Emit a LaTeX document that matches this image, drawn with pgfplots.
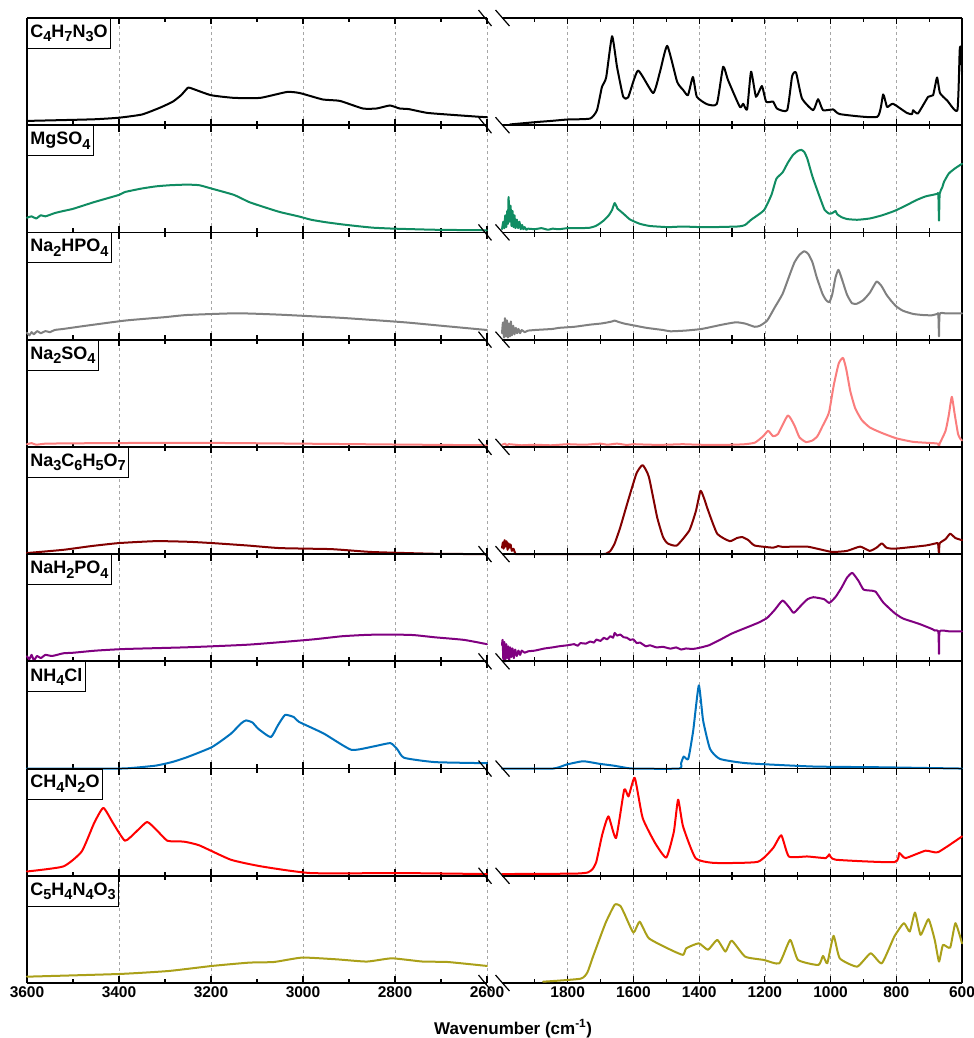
\documentclass[border=0pt]{standalone}
\usepackage{fontspec}
\setmainfont{Liberation Sans}
\usepackage{pgfplots}
\pgfplotsset{compat=1.18}
\definecolor{cgreen}{RGB}{16,140,98}
\definecolor{cgray}{RGB}{128,128,128}
\definecolor{csalmon}{RGB}{250,125,125}
\definecolor{cdred}{RGB}{130,0,0}
\definecolor{cpurple}{RGB}{128,0,128}
\definecolor{cblue}{RGB}{0,114,189}
\definecolor{cred}{RGB}{255,0,0}
\definecolor{colive}{RGB}{170,160,25}
\newcommand\sub[1]{\raisebox{-4.5bp}{\fontsize{14.5bp}{14.5bp}\selectfont #1}}
\newcommand\lab[1]{\node[draw=black, line width=0.8bp, fill=white, anchor=north west, inner xsep=3bp, inner ysep=0bp, minimum height=30bp, font=\fontsize{18bp}{20bp}\selectfont\bfseries] at (rel axis cs:0,1) {#1};}
\pgfplotsset{
  panel/.style={scale only axis, width=460bp, height=107.222bp, ymin=0, ymax=1, ytick=\empty,
    x dir=reverse, xticklabels=\empty, xmajorgrids=true, clip=false,
    major grid style={color=black!35, line width=0.7bp, dash pattern=on 3bp off 3bp},
    every tick/.style={black, line width=1.1bp},
    major tick length=6.5bp, minor tick length=4.2bp,
    anchor=south west,
    xticklabel style={font=\fontsize{15.5bp}{18bp}\selectfont\bfseries},
    every axis plot/.append style={line width=2bp, line join=round, line cap=round, no markers, smooth, tension=0.3}},
  lp/.style={panel, xmin=2600, xmax=3600, xtick={2600,2800,3000,3200,3400,3600}, minor xtick={2700,2900,3100,3300,3500}, axis y line*=left, axis line style={-, line width=1.8bp, black}},
  rp/.style={panel, xmin=600, xmax=2000, xtick={600,800,1000,1200,1400,1600,1800}, minor xtick={700,900,1100,1300,1500,1700,1900}, axis y line*=right, axis line style={-, line width=1.8bp, black}},
}
\begin{document}
\begin{tikzpicture}
% ---------- Panel 1: C4H7N3O ----------
\begin{axis}[lp, at={(27bp,912.778bp)}]
\addplot[black] coordinates {(3600,0.04)(3500,0.05)(3450,0.056)(3400,0.07)(3350,0.10)(3310,0.165)(3283,0.22)(3265,0.28)(3250,0.35)(3240,0.34)(3200,0.28)(3150,0.255)(3093,0.255)(3035,0.31)(3007,0.30)(2957,0.24)(2920,0.227)(2870,0.156)(2840,0.156)(2811,0.184)(2790,0.156)(2770,0.15)(2730,0.115)(2674,0.096)(2615,0.078)(2600,0.075)};
\lab{C\sub{4}H\sub{7}N\sub{3}O}
\end{axis}
\begin{axis}[rp, at={(502bp,912.778bp)}]
\addplot[black] coordinates {(1976,0.007)(1893,0.03)(1850,0.04)(1802,0.053)(1732,0.062)(1711,0.14)(1696,0.355)(1683,0.445)(1665,0.83)(1650,0.545)(1631,0.265)(1616,0.26)(1586,0.51)(1540,0.30)(1519,0.50)(1497,0.74)(1467,0.405)(1449,0.33)(1434,0.28)(1419,0.45)(1407,0.265)(1376,0.196)(1346,0.2)(1327,0.545)(1312,0.42)(1276,0.17)(1266,0.2)(1254,0.147)(1242,0.50)(1227,0.265)(1209,0.365)(1196,0.218)(1175,0.22)(1163,0.155)(1132,0.14)(1117,0.458)(1105,0.49)(1087,0.25)(1053,0.14)(1038,0.243)(1023,0.14)(992,0.147)(971,0.103)(858,0.078)(840,0.287)(828,0.17)(810,0.2)(768,0.115)(752,0.103)(749,0.14)(734,0.11)(703,0.265)(688,0.28)(676,0.445)(667,0.30)(645,0.23)(614,0.14)(607,0.7)(603,0.72)(600,0.5)};
\end{axis}
% ---------- Panel 2: MgSO4 ----------
\begin{axis}[lp, at={(27bp,805.556bp)}]
\addplot[cgreen] coordinates {(3600,0.137)(3590,0.15)(3580,0.13)(3570,0.16)(3560,0.15)(3540,0.18)(3521,0.2)(3500,0.22)(3454,0.283)(3400,0.35)(3387,0.377)(3350,0.41)(3319,0.43)(3290,0.44)(3252,0.446)(3225,0.44)(3198,0.408)(3150,0.35)(3117,0.283)(3080,0.23)(3050,0.19)(3010,0.15)(2982,0.118)(2950,0.095)(2915,0.075)(2880,0.058)(2847,0.044)(2800,0.035)(2713,0.025)(2600,0.02)};
\lab{MgSO\sub{4}}
\end{axis}
\begin{axis}[rp, at={(502bp,805.556bp)}]
\addplot[cgreen] coordinates {(2000,0.03)(1996,0.1)(1993,0.04)(1990,0.16)(1987,0.05)(1984,0.2)(1982,0.08)(1980,0.33)(1977,0.1)(1974,0.25)(1971,0.06)(1968,0.2)(1965,0.05)(1962,0.16)(1959,0.04)(1955,0.12)(1951,0.04)(1947,0.1)(1943,0.03)(1939,0.07)(1935,0.03)(1931,0.05)(1926,0.025)(1921,0.035)(1900,0.03)(1880,0.04)(1860,0.025)(1846,0.035)(1827,0.03)(1800,0.04)(1761,0.04)(1732,0.044)(1715,0.06)(1704,0.08)(1690,0.112)(1675,0.16)(1665,0.21)(1657,0.274)(1648,0.22)(1640,0.2)(1628,0.168)(1610,0.12)(1581,0.081)(1550,0.06)(1500,0.05)(1487,0.05)(1450,0.055)(1400,0.05)(1350,0.05)(1279,0.056)(1260,0.07)(1241,0.12)(1203,0.206)(1180,0.35)(1165,0.5)(1146,0.56)(1130,0.65)(1115,0.72)(1100,0.76)(1089,0.77)(1080,0.75)(1071,0.69)(1055,0.52)(1033,0.33)(1018,0.21)(1004,0.175)(995,0.18)(985,0.2)(980,0.17)(967,0.143)(950,0.125)(919,0.118)(881,0.13)(844,0.159)(806,0.2)(770,0.252)(740,0.3)(711,0.336)(690,0.35)(675,0.36)(672,0.36)(670,0.11)(668,0.36)(660,0.42)(655,0.47)(640,0.55)(620,0.6)(600,0.64)};
\end{axis}
% ---------- Panel 3: Na2HPO4 ----------
\begin{axis}[lp, at={(27bp,698.333bp)}]
\addplot[cgray] coordinates {(3600,0.065)(3595,0.04)(3590,0.07)(3585,0.05)(3578,0.08)(3570,0.06)(3560,0.08)(3550,0.07)(3540,0.09)(3521,0.1)(3480,0.125)(3387,0.178)(3300,0.21)(3252,0.23)(3144,0.246)(3050,0.233)(2915,0.203)(2780,0.162)(2700,0.13)(2600,0.09)};
\lab{Na\sub{2}HPO\sub{4}}
\end{axis}
\begin{axis}[rp, at={(502bp,698.333bp)}]
\addplot[cgray] coordinates {(2000,0.06)(1997,0.16)(1994,0.02)(1991,0.2)(1988,0.03)(1985,0.18)(1982,0.02)(1979,0.15)(1976,0.03)(1973,0.17)(1970,0.04)(1966,0.13)(1962,0.05)(1958,0.11)(1954,0.06)(1950,0.1)(1945,0.06)(1940,0.09)(1931,0.07)(1921,0.084)(1900,0.09)(1846,0.1)(1827,0.11)(1780,0.12)(1732,0.14)(1700,0.15)(1680,0.16)(1665,0.17)(1657,0.178)(1645,0.165)(1628,0.15)(1596,0.131)(1560,0.11)(1510,0.09)(1487,0.078)(1440,0.085)(1392,0.1)(1330,0.14)(1288,0.162)(1260,0.15)(1231,0.12)(1215,0.13)(1193,0.178)(1170,0.3)(1146,0.427)(1125,0.6)(1110,0.72)(1095,0.79)(1080,0.825)(1068,0.8)(1055,0.72)(1042,0.58)(1025,0.43)(1014,0.37)(1004,0.349)(995,0.42)(985,0.58)(976,0.651)(965,0.56)(950,0.42)(935,0.34)(920,0.335)(900,0.37)(880,0.44)(860,0.542)(845,0.5)(830,0.42)(815,0.36)(800,0.31)(780,0.27)(749,0.24)(720,0.23)(692,0.227)(675,0.24)(672,0.24)(670,0.03)(668,0.24)(650,0.245)(600,0.246)};
\end{axis}
% ---------- Panel 4: Na2SO4 ----------
\begin{axis}[lp, at={(27bp,591.111bp)}]
\addplot[csalmon] coordinates {(3600,0.025)(3590,0.035)(3580,0.02)(3560,0.03)(3500,0.033)(3400,0.036)(3200,0.037)(3000,0.03)(2800,0.022)(2600,0.015)};
\lab{Na\sub{2}SO\sub{4}}
\end{axis}
\begin{axis}[rp, at={(502bp,591.111bp)}]
\addplot[csalmon] coordinates {(2000,0.02)(1990,0.03)(1985,0.01)(1980,0.025)(1960,0.02)(1940,0.015)(1900,0.02)(1850,0.015)(1800,0.025)(1750,0.02)(1700,0.03)(1680,0.02)(1650,0.03)(1620,0.018)(1600,0.025)(1550,0.02)(1500,0.02)(1450,0.025)(1400,0.02)(1300,0.02)(1260,0.025)(1230,0.04)(1205,0.1)(1190,0.15)(1175,0.1)(1160,0.12)(1130,0.293)(1110,0.2)(1095,0.09)(1075,0.045)(1055,0.06)(1040,0.1)(1025,0.19)(1005,0.32)(990,0.58)(975,0.78)(962,0.83)(952,0.72)(940,0.52)(925,0.36)(905,0.25)(880,0.18)(844,0.13)(800,0.08)(749,0.047)(690,0.035)(673,0.03)(670,0.0)(668,0.03)(650,0.15)(640,0.3)(631,0.467)(622,0.3)(612,0.12)(605,0.075)(600,0.06)};
\end{axis}
% ---------- Panel 5: Na3C6H5O7 ----------
\begin{axis}[lp, at={(27bp,483.889bp)}]
\addplot[cdred] coordinates {(3600,0.01)(3521,0.04)(3460,0.075)(3400,0.103)(3319,0.121)(3250,0.115)(3198,0.103)(3120,0.08)(3050,0.056)(2942,0.047)(2900,0.035)(2847,0.019)(2713,0.003)(2600,0.0)};
\lab{Na\sub{3}C\sub{6}H\sub{5}O\sub{7}}
\end{axis}
\begin{axis}[rp, at={(502bp,483.889bp)}]
\addplot[cdred] coordinates {(2000,0.06)(1997,0.11)(1995,0.05)(1992,0.13)(1989,0.07)(1986,0.12)(1983,0.04)(1980,0.1)(1977,0.06)(1974,0.09)(1970,0.03)(1965,0.05)(1960,0.01)(1950,0.0)(1700,0.0)(1680,0.01)(1670,0.03)(1657,0.1)(1640,0.25)(1619,0.47)(1591,0.75)(1572,0.83)(1553,0.72)(1528,0.346)(1510,0.16)(1496,0.1)(1468,0.08)(1430,0.22)(1410,0.4)(1396,0.59)(1385,0.52)(1373,0.41)(1345,0.19)(1307,0.121)(1285,0.15)(1269,0.159)(1250,0.13)(1231,0.08)(1175,0.06)(1160,0.075)(1146,0.067)(1110,0.07)(1071,0.07)(1040,0.05)(995,0.02)(950,0.03)(910,0.07)(881,0.03)(860,0.06)(844,0.1)(830,0.06)(806,0.05)(711,0.08)(680,0.1)(673,0.1)(670,0.0)(668,0.1)(650,0.14)(636,0.19)(620,0.15)(600,0.13)};
\end{axis}
% ---------- Panel 6: NaH2PO4 ----------
\begin{axis}[lp, at={(27bp,376.667bp)}]
\addplot[cpurple] coordinates {(3600,0.047)(3595,0.02)(3590,0.06)(3585,0.01)(3578,0.05)(3570,0.03)(3560,0.06)(3545,0.05)(3521,0.075)(3500,0.08)(3450,0.1)(3387,0.115)(3252,0.131)(3117,0.156)(2982,0.203)(2915,0.234)(2860,0.247)(2810,0.25)(2760,0.245)(2713,0.224)(2650,0.2)(2600,0.16)};
\lab{NaH\sub{2}PO\sub{4}}
\end{axis}
\begin{axis}[rp, at={(502bp,376.667bp)}]
\addplot[cpurple] coordinates {(2000,0.15)(1998,0.2)(1996,0.02)(1993,0.18)(1990,0.0)(1987,0.16)(1984,0.03)(1981,0.14)(1978,0.01)(1975,0.13)(1972,0.04)(1968,0.12)(1964,0.03)(1960,0.11)(1955,0.05)(1950,0.1)(1945,0.06)(1940,0.1)(1931,0.08)(1921,0.093)(1900,0.1)(1870,0.12)(1846,0.13)(1827,0.14)(1800,0.15)(1780,0.16)(1770,0.145)(1761,0.17)(1745,0.165)(1732,0.185)(1720,0.175)(1713,0.203)(1700,0.19)(1690,0.22)(1680,0.205)(1670,0.235)(1662,0.22)(1657,0.265)(1650,0.24)(1640,0.25)(1630,0.225)(1620,0.22)(1610,0.2)(1600,0.205)(1590,0.17)(1580,0.175)(1562,0.14)(1550,0.15)(1530,0.13)(1510,0.135)(1487,0.118)(1470,0.13)(1455,0.11)(1440,0.12)(1420,0.115)(1401,0.125)(1370,0.15)(1335,0.203)(1300,0.26)(1260,0.31)(1220,0.36)(1193,0.405)(1170,0.48)(1146,0.567)(1125,0.5)(1112,0.452)(1090,0.52)(1070,0.58)(1052,0.598)(1020,0.58)(1004,0.545)(985,0.6)(967,0.685)(950,0.78)(934,0.825)(915,0.75)(900,0.67)(880,0.66)(863,0.65)(840,0.55)(806,0.452)(780,0.4)(730,0.349)(690,0.3)(683,0.287)(672,0.28)(670,0.069)(668,0.28)(640,0.28)(600,0.28)};
\end{axis}
% ---------- Panel 7: NH4Cl ----------
\begin{axis}[lp, at={(27bp,269.444bp)}]
\addplot[cblue] coordinates {(3600,0.0)(3400,0.0)(3360,0.01)(3319,0.028)(3285,0.06)(3252,0.106)(3198,0.2)(3157,0.324)(3135,0.42)(3124,0.449)(3110,0.43)(3097,0.37)(3070,0.293)(3055,0.4)(3039,0.5)(3020,0.48)(3009,0.436)(2955,0.327)(2895,0.175)(2847,0.206)(2810,0.237)(2795,0.18)(2780,0.1)(2713,0.06)(2600,0.05)};
\lab{NH\sub{4}Cl}
\end{axis}
\begin{axis}[rp, at={(502bp,269.444bp)}]
\addplot[cblue] coordinates {(2000,0.0)(1845,0.0)(1804,0.037)(1753,0.068)(1703,0.044)(1662,0.028)(1632,0.012)(1601,0.0)(1461,0.0)(1455,0.05)(1447,0.112)(1433,0.09)(1418,0.355)(1401,0.776)(1388,0.45)(1367,0.184)(1337,0.09)(1256,0.05)(1053,0.019)(850,0.012)(600,0.0)};
\end{axis}
% ---------- Panel 8: CH4N2O ----------
\begin{axis}[lp, at={(27bp,162.222bp)}]
\addplot[cred] coordinates {(3600,0.04)(3521,0.087)(3481,0.227)(3454,0.492)(3434,0.633)(3413,0.492)(3387,0.327)(3362,0.414)(3339,0.502)(3319,0.43)(3295,0.327)(3265,0.32)(3254,0.315)(3225,0.283)(3157,0.15)(3090,0.087)(2982,0.025)(2780,0.025)(2600,0.016)};
\lab{CH\sub{4}N\sub{2}O}
\end{axis}
\begin{axis}[rp, at={(502bp,162.222bp)}]
\addplot[cred] coordinates {(2000,0.016)(1780,0.02)(1740,0.03)(1725,0.06)(1713,0.13)(1695,0.383)(1676,0.554)(1653,0.352)(1628,0.804)(1615,0.74)(1596,0.913)(1572,0.54)(1534,0.305)(1500,0.17)(1477,0.41)(1464,0.71)(1449,0.46)(1411,0.165)(1354,0.12)(1222,0.13)(1175,0.258)(1150,0.378)(1127,0.18)(1071,0.18)(1014,0.165)(1004,0.2)(985,0.15)(806,0.127)(791,0.212)(772,0.165)(711,0.234)(673,0.22)(600,0.367)};
\end{axis}
% ---------- Panel 9: C5H4N4O3 ----------
\begin{axis}[lp, at={(27bp,55bp)}, xticklabels={2600,2800,3000,3200,3400,3600}]
\addplot[colive] coordinates {(3600,0.059)(3400,0.084)(3292,0.112)(3198,0.159)(3117,0.19)(3063,0.196)(3002,0.237)(2928,0.221)(2861,0.2)(2807,0.23)(2740,0.2)(2686,0.196)(2600,0.159)};
\lab{C\sub{5}H\sub{4}N\sub{4}O\sub{3}}
\end{axis}
\begin{axis}[rp, at={(502bp,55bp)}, xticklabels={600,800,1000,1200,1400,1600,1800}]
\addplot[colive] coordinates {(1875,0.012)(1761,0.04)(1740,0.1)(1723,0.246)(1685,0.558)(1657,0.73)(1640,0.72)(1628,0.65)(1600,0.47)(1581,0.572)(1553,0.417)(1487,0.31)(1449,0.262)(1439,0.324)(1401,0.37)(1373,0.31)(1345,0.402)(1320,0.293)(1301,0.396)(1260,0.246)(1203,0.215)(1156,0.184)(1123,0.402)(1099,0.215)(1037,0.168)(1023,0.253)(1010,0.184)(991,0.44)(972,0.23)(919,0.153)(878,0.277)(844,0.184)(806,0.433)(777,0.558)(759,0.48)(743,0.657)(726,0.449)(702,0.595)(683,0.402)(670,0.2)(658,0.355)(636,0.33)(620,0.558)(600,0.37)};
\end{axis}
% ---------- break marks ----------
\foreach \yy in {1020,912.778,805.556,698.333,591.111,483.889,376.667,269.444,162.222,55}{
  \draw[line width=1.2bp] ({478.5bp},{\yy*1bp+8bp}) -- ({491.5bp},{\yy*1bp-8bp});
  \draw[line width=1.2bp] ({495.5bp},{\yy*1bp+8bp}) -- ({509.5bp},{\yy*1bp-8bp});
}
\node[font=\fontsize{17bp}{20bp}\selectfont\bfseries, anchor=base west, inner sep=0pt] at (434bp,4bp) {Wavenumber (cm\textsuperscript{-1})};
\pgfresetboundingbox
\path[use as bounding box] (0,0) rectangle (974bp,1038bp);
\end{tikzpicture}
\end{document}
